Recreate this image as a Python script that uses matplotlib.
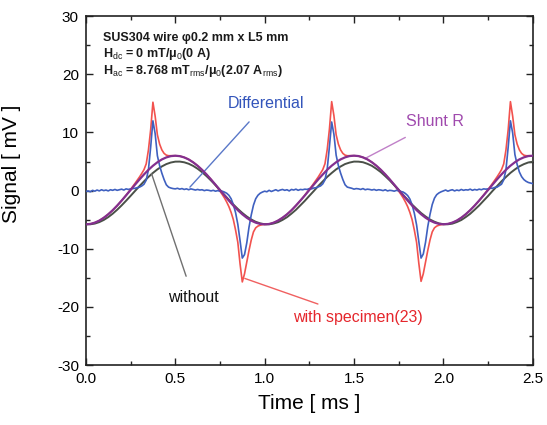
import numpy as np
import matplotlib
matplotlib.use("Agg")
import matplotlib.pyplot as plt
from matplotlib import ticker

plt.rcParams['font.family'] = ['Liberation Sans', 'DejaVu Sans']
plt.rcParams['mathtext.fontset'] = 'custom'
plt.rcParams['mathtext.rm'] = 'Liberation Sans'
plt.rcParams['mathtext.it'] = 'Liberation Sans:italic'
plt.rcParams['mathtext.bf'] = 'Liberation Sans:bold'
plt.rcParams['axes.unicode_minus'] = False

# time grids [ms]
t_slow = np.linspace(0, 2.5, 101)   # 0.025 ms step
t_fast = np.linspace(0, 2.5, 201)   # 0.0125 ms step

# Shunt R reference signal [mV] (read on t_slow)
shunt_r = [
    -5.80, -5.73, -5.51, -5.16, -4.67, -4.07, -3.37, -2.58, -1.72, -0.82,
    0.10, 1.02, 1.92, 2.78, 3.57, 4.27, 4.87, 5.36, 5.71, 5.93,
    6.00, 5.93, 5.71, 5.36, 4.87, 4.27, 3.57, 2.78, 1.92, 1.02,
    0.10, -0.82, -1.72, -2.58, -3.37, -4.07, -4.67, -5.16, -5.51, -5.73,
    -5.80, -5.74, -5.52, -5.15, -4.66, -4.08, -3.38, -2.57, -1.71, -0.83,
    0.11, 1.03, 1.93, 2.77, 3.58, 4.28, 4.88, 5.37, 5.72, 5.94,
    6.01, 5.94, 5.72, 5.37, 4.88, 4.28, 3.58, 2.79, 1.93, 1.03,
    0.11, -0.81, -1.71, -2.57, -3.36, -4.06, -4.66, -5.15, -5.50, -5.72,
    -5.79, -5.72, -5.50, -5.15, -4.66, -4.06, -3.36, -2.57, -1.71, -0.81,
    0.11, 1.03, 1.93, 2.79, 3.58, 4.28, 4.88, 5.37, 5.72, 5.94,
    6.00,
]

# without specimen [mV] (read on t_slow)
without = [
    -5.78, -5.79, -5.67, -5.42, -5.05, -4.56, -3.97, -3.29, -2.54, -1.74,
    -0.91, -0.06, 0.78, 1.59, 2.35, 3.04, 3.65, 4.16, 4.56, 4.83,
    4.98, 4.99, 4.87, 4.62, 4.25, 3.76, 3.17, 2.49, 1.74, 0.94,
    0.11, -0.74, -1.58, -2.39, -3.15, -3.84, -4.45, -4.96, -5.36, -5.63,
    -5.78, -5.80, -5.66, -5.43, -5.04, -4.57, -3.96, -3.30, -2.53, -1.75,
    -0.90, -0.07, 0.79, 1.58, 2.36, 3.03, 3.66, 4.15, 4.57, 4.82,
    4.99, 4.98, 4.88, 4.61, 4.26, 3.75, 3.18, 2.48, 1.75, 0.93,
    0.12, -0.75, -1.57, -2.40, -3.14, -3.85, -4.44, -4.97, -5.35, -5.64,
    -5.77, -5.79, -5.68, -5.41, -5.06, -4.55, -3.98, -3.28, -2.55, -1.73,
    -0.92, -0.05, 0.77, 1.60, 2.34, 3.05, 3.64, 4.17, 4.55, 4.84,
    4.97,
]

# with specimen(23) [mV] (read on t_fast)
with_specimen = [
    -5.80, -5.78, -5.73, -5.64, -5.51, -5.35, -5.16, -4.93, -4.67, -4.39,
    -4.07, -3.73, -3.37, -2.98, -2.58, -2.16, -1.72, -1.26, -0.78, -0.30,
    0.20, 0.72, 1.25, 1.80, 2.35, 2.95, 3.60, 4.60, 7.00, 10.5,
    15.2, 12.8, 9.6, 8.0, 7.0, 6.4, 6.1, 6.0, 6.0, 6.0,
    6.00, 5.98, 5.93, 5.84, 5.71, 5.55, 5.36, 5.13, 4.87, 4.59,
    4.27, 3.93, 3.57, 3.18, 2.78, 2.36, 1.92, 1.45, 0.95, 0.45,
    -0.10, -0.65, -1.25, -1.95, -2.75, -3.75, -5.00, -6.80, -8.90, -12.6,
    -15.7, -14.3, -12.3, -10.3, -8.5, -7.1, -6.4, -6.1, -5.95, -5.85,
    -5.80, -5.79, -5.73, -5.65, -5.51, -5.36, -5.16, -4.94, -4.67, -4.40,
    -4.07, -3.74, -3.37, -2.99, -2.58, -2.17, -1.72, -1.27, -0.78, -0.31,
    0.20, 0.71, 1.25, 1.79, 2.35, 2.96, 3.60, 4.62, 7.05, 10.6,
    15.3, 12.9, 9.6, 8.0, 7.0, 6.4, 6.1, 6.0, 6.0, 6.0,
    6.00, 5.98, 5.93, 5.84, 5.71, 5.55, 5.36, 5.13, 4.87, 4.59,
    4.27, 3.93, 3.57, 3.18, 2.78, 2.36, 1.92, 1.45, 0.95, 0.45,
    -0.10, -0.65, -1.25, -1.95, -2.75, -3.75, -5.00, -6.80, -8.90, -12.5,
    -15.6, -14.3, -12.3, -10.3, -8.5, -7.1, -6.4, -6.1, -5.95, -5.85,
    -5.80, -5.78, -5.73, -5.64, -5.51, -5.35, -5.16, -4.93, -4.67, -4.39,
    -4.07, -3.73, -3.37, -2.98, -2.58, -2.16, -1.72, -1.26, -0.78, -0.30,
    0.20, 0.72, 1.25, 1.80, 2.35, 2.95, 3.60, 4.60, 7.00, 10.5,
    15.3, 12.8, 9.6, 8.0, 7.0, 6.4, 6.1, 6.0, 6.0, 6.0,
    5.95,
]

# Differential [mV] (read on t_fast)
differential = [
    -0.15, -0.05, -0.20, 0.05, -0.10, 0.10, -0.05, 0.15, 0.00, 0.10,
    -0.05, 0.15, 0.05, 0.20, 0.05, 0.15, 0.25, 0.10, 0.30, 0.20,
    0.30, 0.35, 0.40, 0.50, 0.60, 0.80, 1.10, 1.80, 3.60, 7.50,
    12.0, 9.8, 6.0, 4.3, 3.0, 1.9, 1.0, 0.6, 0.45, 0.35,
    0.30, 0.40, 0.25, 0.35, 0.20, 0.30, 0.15, 0.30, 0.20, 0.10,
    0.20, 0.10, 0.15, 0.00, 0.10, 0.05, -0.05, 0.05, -0.10, 0.00,
    -0.10, -0.10, -0.25, -0.45, -0.80, -1.40, -2.40, -3.80, -5.80, -8.60,
    -11.6, -11.0, -9.0, -6.3, -4.2, -2.5, -1.4, -0.8, -0.45, -0.25,
    -0.10, -0.20, 0.05, -0.15, 0.00, 0.15, -0.05, 0.10, 0.20, 0.05,
    0.15, -0.05, 0.20, 0.10, 0.25, 0.05, 0.20, 0.15, 0.25, 0.20,
    0.35, 0.30, 0.45, 0.50, 0.65, 0.80, 1.15, 1.85, 3.70, 7.60,
    11.8, 9.7, 6.1, 4.3, 3.0, 1.9, 1.0, 0.6, 0.50, 0.40,
    0.25, 0.35, 0.30, 0.20, 0.35, 0.15, 0.25, 0.20, 0.10, 0.20,
    0.05, 0.15, 0.10, 0.00, 0.15, -0.05, 0.05, 0.00, -0.10, 0.05,
    -0.05, -0.15, -0.25, -0.50, -0.85, -1.45, -2.45, -3.90, -5.90, -8.70,
    -11.6, -10.9, -8.9, -6.2, -4.1, -2.4, -1.3, -0.7, -0.40, -0.20,
    -0.05, 0.10, -0.10, 0.05, 0.15, -0.05, 0.10, 0.00, 0.20, 0.05,
    0.15, 0.10, 0.25, 0.05, 0.20, 0.10, 0.25, 0.15, 0.30, 0.25,
    0.30, 0.40, 0.40, 0.55, 0.60, 0.85, 1.10, 1.85, 3.60, 7.50,
    12.0, 9.9, 6.2, 4.5, 3.2, 2.4, 1.9, 1.6, 1.4, 1.3,
    1.2,
]

info_lines = [
    "SUS304 wire φ0.2 mm x L5 mm",
    "H$_{\\rm dc}$ = 0 mT/μ$_0$(0 A)",
    "H$_{\\rm ac}$ = 8.768 mT$_{\\rm rms}$/μ$_0$(2.07 A$_{\\rm rms}$)",
]

fig = plt.figure(figsize=(5.47, 4.25), dpi=100)
ax = fig.add_axes([0.157, 0.141, 0.817, 0.821])

ax.plot(t_fast, with_specimen, color='#f2524e', lw=1.2, zorder=2)
ax.plot(t_slow, without, color='#4a5048', lw=1.4, zorder=3)
ax.plot(t_fast, differential, color='#3f60c0', lw=1.2, zorder=4)
ax.plot(t_slow, shunt_r, color='#83308f', lw=1.6, zorder=5)

ax.set_xlim(0, 2.5)
ax.set_ylim(-30, 30)
ax.xaxis.set_major_locator(ticker.MultipleLocator(0.5))
ax.xaxis.set_minor_locator(ticker.MultipleLocator(0.25))
ax.yaxis.set_major_locator(ticker.MultipleLocator(10))
ax.yaxis.set_minor_locator(ticker.MultipleLocator(5))
ax.xaxis.set_major_formatter(ticker.FormatStrFormatter('%.1f'))
ax.tick_params(which='both', direction='in', top=True, right=True,
               labelsize=11, width=1.0, color='#222222')
ax.tick_params(which='major', length=5, pad=5)
ax.tick_params(which='minor', length=3)
for s in ax.spines.values():
    s.set_linewidth(1.2)
    s.set_color('#222222')

ax.set_xlabel('Time [ ms ]', fontsize=15, labelpad=6)
ax.set_ylabel('Signal [ mV ]', fontsize=15)
ax.yaxis.set_label_coords(-0.145, 0.578)

# condition text, one line at a time
for y, line in zip([25.7, 22.9, 20.0], info_lines):
    ax.text(0.095, y, line, fontsize=9, fontweight='bold', va='baseline',
            ha='left', color='#1a1a1a')

# curve labels with pointer lines
ax.annotate('Differential', xy=(0.582, 0.6), xytext=(1.007, 15.0),
            color='#3355bb', fontsize=11.5, ha='center', va='center',
            arrowprops=dict(arrowstyle='-', color='#5a78c8', lw=1.0,
                            shrinkA=8, shrinkB=0))
ax.annotate('Shunt R', xy=(1.56, 5.5), xytext=(1.952, 11.8),
            color='#a04aae', fontsize=11.5, ha='center', va='center',
            arrowprops=dict(arrowstyle='-', color='#c080c8', lw=1.0,
                            shrinkA=8, shrinkB=0))
ax.annotate('without', xy=(0.367, 2.95), xytext=(0.60, -18.3),
            color='#111111', fontsize=11.5, ha='center', va='center',
            arrowprops=dict(arrowstyle='-', color='#707070', lw=1.0,
                            shrinkA=8, shrinkB=0))
ax.annotate('with specimen(23)', xy=(0.889, -15.1), xytext=(1.521, -21.9),
            color='#e5262c', fontsize=11.5, ha='center', va='center',
            arrowprops=dict(arrowstyle='-', color='#f06060', lw=1.0,
                            shrinkA=8, shrinkB=0))

fig.savefig('out.png', dpi=100)
